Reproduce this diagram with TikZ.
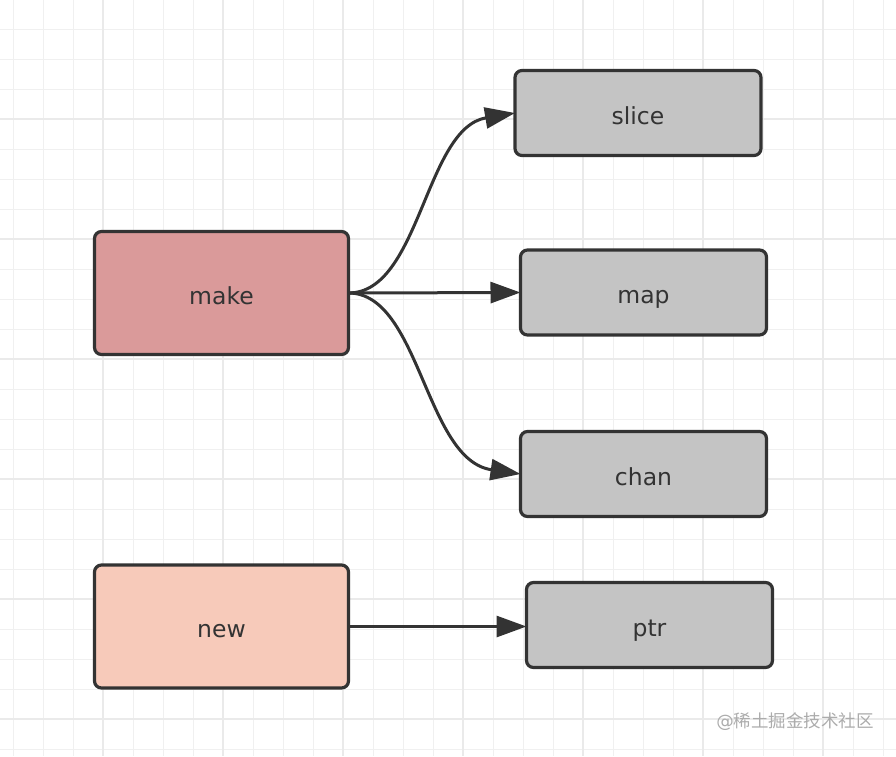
\documentclass[tikz,border=0pt]{standalone}
\usepackage{fontspec}
\setmainfont{DejaVu Sans}
\newfontfamily\cjkfont{Noto Sans CJK SC}
\usetikzlibrary{arrows.meta}
\definecolor{edgec}{HTML}{333333}
\definecolor{makec}{HTML}{DA9A9A}
\definecolor{newc}{HTML}{F7CABA}
\definecolor{grayc}{HTML}{C4C4C4}
\definecolor{gridminor}{HTML}{F0F0F0}
\definecolor{gridmajor}{HTML}{EAEAEA}
\tikzset{
  box/.style={draw=edgec, line width=3.2pt, rounded corners=7pt, inner sep=0pt, outer sep=0pt,
    text=edgec, font=\fontsize{23.5}{26}\selectfont, text height=24pt, text depth=2pt},
  bigbox/.style={box, minimum width=254pt, minimum height=123pt},
  smallbox/.style={box, fill=grayc, minimum width=246pt, minimum height=85pt},
  conn/.style={draw=edgec, line width=3pt, -{Triangle[length=30pt,width=21pt]}},
}
\begin{document}
\begin{tikzpicture}[x=1pt,y=-1pt]
\useasboundingbox (0,0) rectangle (896,756);
\fill[white] (0,0) rectangle (896,756);
% grid
\foreach \x in {13,43,...,896} \draw[gridminor, line width=1pt] (\x,0) -- (\x,756);
\foreach \y in {29,59,...,756} \draw[gridminor, line width=1pt] (0,\y) -- (896,\y);
\foreach \x in {103,223,...,896} \draw[gridmajor, line width=1.2pt] (\x,0) -- (\x,756);
\foreach \y in {119,239,...,756} \draw[gridmajor, line width=1.2pt] (0,\y) -- (896,\y);
% nodes
\node[bigbox, fill=makec] (make) at (221.5,293) {make};
\node[bigbox, fill=newc] (new) at (221.5,626.5) {new};
\node[smallbox] (slice) at (638,113) {slice};
\node[smallbox] (map) at (643.5,292.5) {map};
\node[smallbox] (chan) at (643.5,474) {chan};
\node[smallbox] (ptr) at (649.5,625) {ptr};
% connectors
\draw[conn] (make.east) .. controls (420,293) and (425,128) .. (slice.west);
\draw[conn] (make.east) -- (map.west);
\draw[conn] (make.east) .. controls (420,293) and (425,460) .. (chan.west);
\draw[conn] (new.east) -- (new.east -| ptr.west);
% watermark
\node[text=gray!65, font=\fontsize{17.5}{20}\selectfont, anchor=east, inner sep=0pt] (wm) at (874,722) {@{\cjkfont 稀土掘金技术社区}};
\end{tikzpicture}
\end{document}
